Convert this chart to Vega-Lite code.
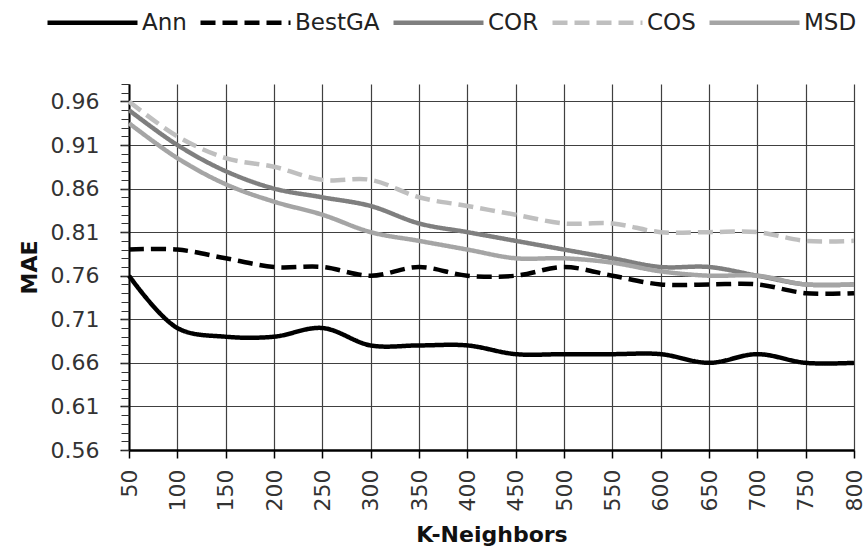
{
  "$schema": "https://vega.github.io/schema/vega-lite/v6.json",
  "autosize": "none",
  "width": 725,
  "height": 366,
  "padding": {"left": 129, "top": 84, "right": 12, "bottom": 98},
  "background": "white",
  "config": {"view": {"stroke": null}, "font": "DejaVu Sans"},
  "data": {
    "values": [
      {"k": 50, "method": "Ann", "mae": 0.76}, {"k": 100, "method": "Ann", "mae": 0.70}, {"k": 150, "method": "Ann", "mae": 0.69}, {"k": 200, "method": "Ann", "mae": 0.69},
      {"k": 250, "method": "Ann", "mae": 0.70}, {"k": 300, "method": "Ann", "mae": 0.68}, {"k": 350, "method": "Ann", "mae": 0.68}, {"k": 400, "method": "Ann", "mae": 0.68},
      {"k": 450, "method": "Ann", "mae": 0.67}, {"k": 500, "method": "Ann", "mae": 0.67}, {"k": 550, "method": "Ann", "mae": 0.67}, {"k": 600, "method": "Ann", "mae": 0.67},
      {"k": 650, "method": "Ann", "mae": 0.66}, {"k": 700, "method": "Ann", "mae": 0.67}, {"k": 750, "method": "Ann", "mae": 0.66}, {"k": 800, "method": "Ann", "mae": 0.66},
      {"k": 50, "method": "BestGA", "mae": 0.79}, {"k": 100, "method": "BestGA", "mae": 0.79}, {"k": 150, "method": "BestGA", "mae": 0.78}, {"k": 200, "method": "BestGA", "mae": 0.77},
      {"k": 250, "method": "BestGA", "mae": 0.77}, {"k": 300, "method": "BestGA", "mae": 0.76}, {"k": 350, "method": "BestGA", "mae": 0.77}, {"k": 400, "method": "BestGA", "mae": 0.76},
      {"k": 450, "method": "BestGA", "mae": 0.76}, {"k": 500, "method": "BestGA", "mae": 0.77}, {"k": 550, "method": "BestGA", "mae": 0.76}, {"k": 600, "method": "BestGA", "mae": 0.75},
      {"k": 650, "method": "BestGA", "mae": 0.75}, {"k": 700, "method": "BestGA", "mae": 0.75}, {"k": 750, "method": "BestGA", "mae": 0.74}, {"k": 800, "method": "BestGA", "mae": 0.74},
      {"k": 50, "method": "COR", "mae": 0.95}, {"k": 100, "method": "COR", "mae": 0.91}, {"k": 150, "method": "COR", "mae": 0.88}, {"k": 200, "method": "COR", "mae": 0.86},
      {"k": 250, "method": "COR", "mae": 0.85}, {"k": 300, "method": "COR", "mae": 0.84}, {"k": 350, "method": "COR", "mae": 0.82}, {"k": 400, "method": "COR", "mae": 0.81},
      {"k": 450, "method": "COR", "mae": 0.80}, {"k": 500, "method": "COR", "mae": 0.79}, {"k": 550, "method": "COR", "mae": 0.78}, {"k": 600, "method": "COR", "mae": 0.77},
      {"k": 650, "method": "COR", "mae": 0.77}, {"k": 700, "method": "COR", "mae": 0.76}, {"k": 750, "method": "COR", "mae": 0.75}, {"k": 800, "method": "COR", "mae": 0.75},
      {"k": 50, "method": "COS", "mae": 0.96}, {"k": 100, "method": "COS", "mae": 0.92}, {"k": 150, "method": "COS", "mae": 0.895}, {"k": 200, "method": "COS", "mae": 0.885},
      {"k": 250, "method": "COS", "mae": 0.87}, {"k": 300, "method": "COS", "mae": 0.87}, {"k": 350, "method": "COS", "mae": 0.85}, {"k": 400, "method": "COS", "mae": 0.84},
      {"k": 450, "method": "COS", "mae": 0.83}, {"k": 500, "method": "COS", "mae": 0.82}, {"k": 550, "method": "COS", "mae": 0.82}, {"k": 600, "method": "COS", "mae": 0.81},
      {"k": 650, "method": "COS", "mae": 0.81}, {"k": 700, "method": "COS", "mae": 0.81}, {"k": 750, "method": "COS", "mae": 0.80}, {"k": 800, "method": "COS", "mae": 0.80},
      {"k": 50, "method": "MSD", "mae": 0.935}, {"k": 100, "method": "MSD", "mae": 0.895}, {"k": 150, "method": "MSD", "mae": 0.865}, {"k": 200, "method": "MSD", "mae": 0.845},
      {"k": 250, "method": "MSD", "mae": 0.83}, {"k": 300, "method": "MSD", "mae": 0.81}, {"k": 350, "method": "MSD", "mae": 0.80}, {"k": 400, "method": "MSD", "mae": 0.79},
      {"k": 450, "method": "MSD", "mae": 0.78}, {"k": 500, "method": "MSD", "mae": 0.78}, {"k": 550, "method": "MSD", "mae": 0.775}, {"k": 600, "method": "MSD", "mae": 0.765},
      {"k": 650, "method": "MSD", "mae": 0.76}, {"k": 700, "method": "MSD", "mae": 0.76}, {"k": 750, "method": "MSD", "mae": 0.75}, {"k": 800, "method": "MSD", "mae": 0.75}
    ]
  },
  "layer": [
    {
      "mark": {"type": "line", "interpolate": "catmull-rom", "strokeCap": "butt", "strokeJoin": "round"},
      "encoding": {
        "x": {
          "field": "k", "type": "quantitative",
          "scale": {"domain": [50, 800], "nice": false, "zero": false},
          "axis": {
            "values": [50, 100, 150, 200, 250, 300, 350, 400, 450, 500, 550, 600, 650, 700, 750, 800],
            "title": "K-Neighbors", "titleFontSize": 22, "titleFontWeight": "bold", "titleColor": "#111", "titlePadding": 14,
            "labelAngle": 270, "labelFontSize": 22, "labelColor": "#333", "labelPadding": 11, "labelFlush": false, "labelOverlap": false,
            "grid": true, "gridColor": "#404040", "gridWidth": 1.2,
            "domainColor": "#000", "domainWidth": 2.5, "tickColor": "#000", "tickSize": 8, "tickWidth": 1.5
          }
        },
        "y": {
          "field": "mae", "type": "quantitative",
          "scale": {"domain": [0.56, 0.98], "nice": false, "zero": false},
          "axis": {
            "orient": "left",
            "values": [0.56, 0.61, 0.66, 0.71, 0.76, 0.81, 0.86, 0.91, 0.96], "format": ".2f",
            "title": "MAE", "titleFontSize": 22, "titleFontWeight": "bold", "titleColor": "#111", "titlePadding": 9,
            "labelFontSize": 22, "labelColor": "#333", "labelPadding": 21, "labelFlush": false, "labelOverlap": false,
            "grid": true, "gridColor": "#404040", "gridWidth": 1.2,
            "domainColor": "#000", "domainWidth": 2, "tickColor": "#000", "tickSize": 9, "tickWidth": 1.5
          }
        },
        "color": {
          "field": "method", "type": "nominal",
          "scale": {"domain": ["Ann", "BestGA", "COR", "COS", "MSD"], "range": ["#000000", "#000000", "#7f7f7f", "#bfbfbf", "#a5a5a5"]},
          "legend": {
            "orient": "none", "legendX": -84, "legendY": -109, "direction": "horizontal", "columns": 5, "title": null,
            "symbolType": "stroke", "symbolSize": 8100, "symbolStrokeWidth": 5.5,
            "labelFontSize": 23, "labelColor": "#222", "labelOffset": 2, "columnPadding": 4
          }
        },
        "strokeDash": {
          "field": "method", "type": "nominal",
          "scale": {"domain": ["Ann", "BestGA", "COR", "COS", "MSD"], "range": [[1, 0], [15, 7], [1, 0], [15, 7], [1, 0]]},
          "legend": {
            "orient": "none", "legendX": -84, "legendY": -109, "direction": "horizontal", "columns": 5, "title": null,
            "symbolType": "stroke", "symbolSize": 8100, "symbolStrokeWidth": 5.5,
            "labelFontSize": 23, "labelColor": "#222", "labelOffset": 2, "columnPadding": 4
          }
        },
        "strokeWidth": {
          "field": "method", "type": "nominal",
          "scale": {"domain": ["Ann", "BestGA", "COR", "COS", "MSD"], "range": [4.5, 4.5, 4, 4, 4]},
          "legend": null
        }
      }
    },
    {
      "mark": {"type": "point", "opacity": 0},
      "encoding": {
        "y": {
          "field": "mae", "type": "quantitative",
          "axis": {
            "orient": "left",
            "values": [0.56, 0.57, 0.58, 0.59, 0.6, 0.61, 0.62, 0.63, 0.64, 0.65, 0.66, 0.67, 0.68, 0.69, 0.7, 0.71, 0.72, 0.73, 0.74, 0.75, 0.76, 0.77, 0.78, 0.79, 0.8, 0.81, 0.82, 0.83, 0.84, 0.85, 0.86, 0.87, 0.88, 0.89, 0.9, 0.91, 0.92, 0.93, 0.94, 0.95, 0.96, 0.97, 0.98],
            "labels": false, "grid": false, "domain": false, "title": null,
            "ticks": true, "tickSize": 8, "tickColor": "#333", "tickWidth": 1
          }
        }
      }
    }
  ],
  "resolve": {"axis": {"y": "independent"}}
}
